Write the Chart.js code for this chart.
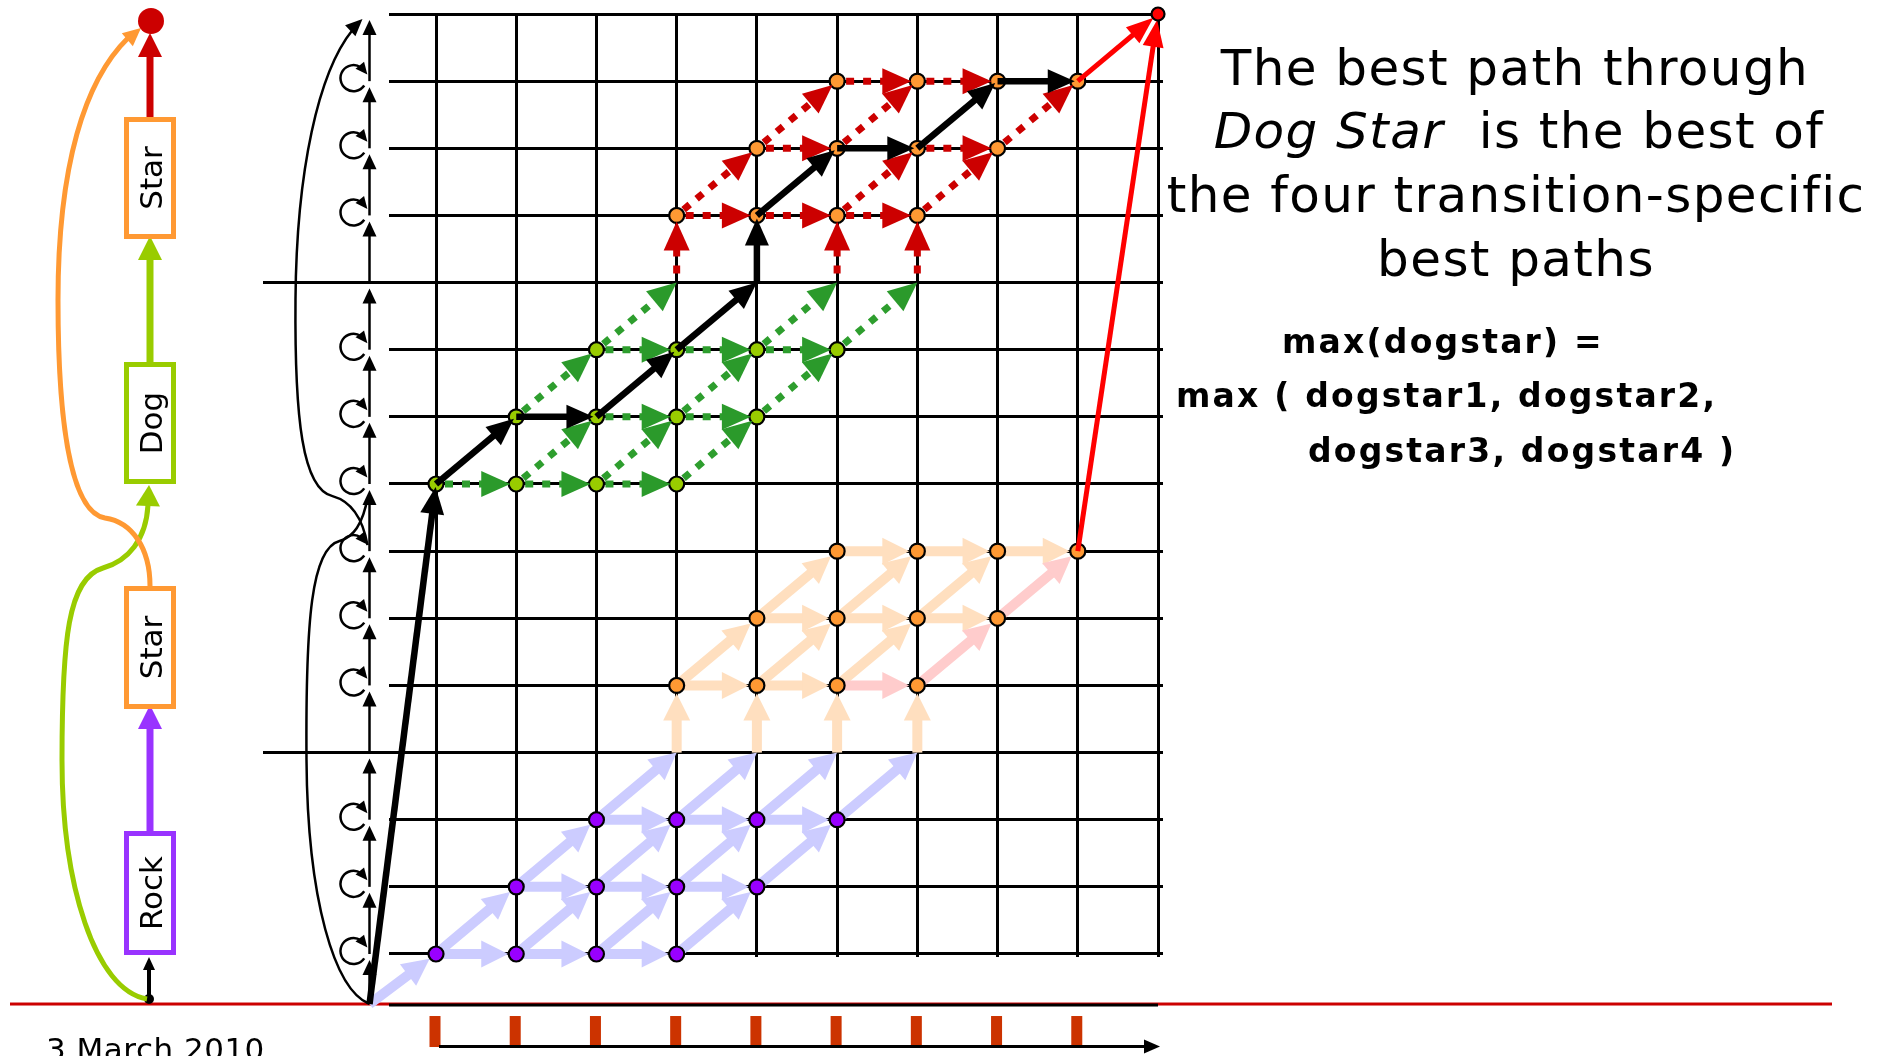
<!DOCTYPE html>
<html>
<head>
<meta charset="utf-8">
<title>Best path through Dog Star</title>
<script src="https://cdn.jsdelivr.net/npm/chart.js@4.4.1/dist/chart.umd.min.js"></script>
<style>
  html, body { margin: 0; padding: 0; background: #fff; overflow: hidden; }
  canvas { display: block; }
</style>
</head>
<body>
<canvas id="trellis" width="1889" height="1056"></canvas>
<script>
// frames along x, HMM states up y (1 = first Rock state, 15 = final state)
const frames = [1, 2, 3, 4, 5, 6, 7, 8, 9, 10]
const frameTicks = [1, 2, 3, 4, 5, 6, 7, 8, 9]
const stateRows = [1, 2, 3, 4, 5, 6, 7, 8, 9, 10, 11, 12, 13, 14, 15]
const stateColors = ["#9900ff", "#9900ff", "#9900ff", "#a9b6c4", "#ff9933", "#ff9933", "#ff9933",
  "#99cc00", "#99cc00", "#99cc00", "#a9b6c4", "#ff9933", "#ff9933", "#ff9933", "#ff0000"]
const loopRows = [1, 2, 3, 5, 6, 7, 8, 9, 10, 12, 13, 14]
const separatorRows = [4, 11]

// word graph on the left
const words = ["Rock", "Star", "Dog", "Star"]
const wordColors = ["#9933ff", "#ff9933", "#99cc00", "#ff9933"]

// trellis nodes, [frame, state]
const rockNodes = [[1, 1], [2, 1], [3, 1], [4, 1], [2, 2], [3, 2], [4, 2], [5, 2], [3, 3], [4, 3], [5, 3], [6, 3]]
const rockStarNodes = [[4, 5], [5, 5], [6, 5], [7, 5], [5, 6], [6, 6], [7, 6], [8, 6], [6, 7], [7, 7], [8, 7], [9, 7]]
const dogNodes = [[1, 8], [2, 8], [3, 8], [4, 8], [2, 9], [3, 9], [4, 9], [5, 9], [3, 10], [4, 10], [5, 10], [6, 10]]
const dogStarNodes = [[4, 12], [5, 12], [6, 12], [7, 12], [5, 13], [6, 13], [7, 13], [8, 13], [6, 14], [7, 14], [8, 14], [9, 14]]
const finalNode = [[10, 15]]

// arcs, [fromFrame, fromState, toFrame, toState]; frame 0 / state 0 = start
const rockArcs = [
  [0, 0, 1, 1],
  [1, 1, 2, 1], [2, 1, 3, 1], [3, 1, 4, 1],
  [2, 2, 3, 2], [3, 2, 4, 2], [4, 2, 5, 2],
  [3, 3, 4, 3], [4, 3, 5, 3], [5, 3, 6, 3],
  [1, 1, 2, 2], [2, 1, 3, 2], [3, 1, 4, 2], [4, 1, 5, 2],
  [2, 2, 3, 3], [3, 2, 4, 3], [4, 2, 5, 3], [5, 2, 6, 3],
  [3, 3, 4, 4], [4, 3, 5, 4], [5, 3, 6, 4], [6, 3, 7, 4]
]
const rockStarArcs = [
  [4, 4, 4, 5], [5, 4, 5, 5], [6, 4, 6, 5], [7, 4, 7, 5],
  [4, 5, 5, 5], [5, 5, 6, 5],
  [5, 6, 6, 6], [6, 6, 7, 6], [7, 6, 8, 6],
  [6, 7, 7, 7], [7, 7, 8, 7], [8, 7, 9, 7],
  [4, 5, 5, 6], [5, 5, 6, 6], [6, 5, 7, 6],
  [5, 6, 6, 7], [6, 6, 7, 7], [7, 6, 8, 7]
]
const rockStarBest = [[6, 5, 7, 5], [7, 5, 8, 6], [8, 6, 9, 7]]
const dogArcs = [
  [1, 8, 2, 8], [2, 8, 3, 8], [3, 8, 4, 8],
  [3, 9, 4, 9], [4, 9, 5, 9],
  [3, 10, 4, 10], [4, 10, 5, 10], [5, 10, 6, 10],
  [2, 8, 3, 9], [3, 8, 4, 9], [4, 8, 5, 9],
  [2, 9, 3, 10], [4, 9, 5, 10], [5, 9, 6, 10],
  [3, 10, 4, 11], [5, 10, 6, 11], [6, 10, 7, 11]
]
const dogStarArcs = [
  [4, 11, 4, 12], [6, 11, 6, 12], [7, 11, 7, 12],
  [4, 12, 5, 12], [5, 12, 6, 12], [6, 12, 7, 12],
  [5, 13, 6, 13], [7, 13, 8, 13],
  [6, 14, 7, 14], [7, 14, 8, 14],
  [4, 12, 5, 13], [6, 12, 7, 13], [7, 12, 8, 13],
  [5, 13, 6, 14], [6, 13, 7, 14], [8, 13, 9, 14]
]
const bestPath = [[0, 0], [1, 8], [2, 9], [3, 9], [4, 10], [5, 11], [5, 12], [6, 13], [7, 13], [8, 14], [9, 14]]
const finalArcs = [[9, 14, 10, 15], [9, 7, 10, 15]]

// the state column and the start row sit off the regular frame/state grid
const X0 = 0.171
const Y0 = 0.255

const toXY = ([t, k]) => ({ x: t === 0 ? X0 : t, y: k === 0 ? Y0 : k })
const nodeSet = new Set([...rockNodes, ...rockStarNodes, ...dogNodes, ...dogStarNodes, ...finalNode].map(n => n.join(",")))

const FONT = '"DejaVu Sans", Verdana, sans-serif'

function head(ctx, tx, ty, ux, uy, hl, hw, color) {
  const bx = tx - ux * hl, by = ty - uy * hl
  ctx.fillStyle = color
  ctx.beginPath()
  ctx.moveTo(tx, ty)
  ctx.lineTo(bx - uy * hw / 2, by + ux * hw / 2)
  ctx.lineTo(bx + uy * hw / 2, by - ux * hw / 2)
  ctx.closePath()
  ctx.fill()
}

function arrow(ctx, a, b, s) {
  const dx = b.x - a.x, dy = b.y - a.y, len = Math.hypot(dx, dy)
  const ux = dx / len, uy = dy / len
  const tx = b.x - ux * (s.gap || 0), ty = b.y - uy * (s.gap || 0)
  const bx = tx - ux * s.hl, by = ty - uy * s.hl
  ctx.save()
  ctx.strokeStyle = s.color
  ctx.lineWidth = s.lw
  ctx.lineCap = "butt"
  ctx.setLineDash(s.dash || [])
  ctx.beginPath()
  ctx.moveTo(a.x + ux * (s.lead || 0), a.y + uy * (s.lead || 0))
  ctx.lineTo(bx + ux, by + uy)
  ctx.stroke()
  ctx.setLineDash([])
  head(ctx, tx, ty, ux, uy, s.hl, s.hw, s.headColor || s.color)
  ctx.restore()
}

// arc styles
const lavender = { color: "#ccccff", lw: 10, hl: 27, hw: 27 }
const peach = { color: "#ffdfbf", lw: 10, hl: 27, hw: 27 }
const pink = { color: "#ffcccc", lw: 10, hl: 27, hw: 27 }
const greenDots = { color: "#2e9e2e", lw: 7, dash: [8, 9], hl: 29, hw: 26, lead: 9, headColor: "#2b9a2b" }
const redDots = { color: "#cc0000", lw: 7, dash: [8, 9], hl: 29, hw: 26, lead: 9 }
const blackPath = { color: "#000", lw: 6.5, hl: 27, hw: 24 }
const redSolid = { color: "#ff0000", lw: 5, hl: 27, hw: 21 }
const chainArrow = { color: "#000", lw: 2.5, hl: 15, hw: 14 }

function drawArcs(ctx, P, arcs, style, gapNode) {
  arcs.forEach(([t1, k1, t2, k2]) => {
    const gap = nodeSet.has(t2 + "," + k2) ? gapNode : 0
    arrow(ctx, P(t1, k1), P(t2, k2), Object.assign({}, style, { gap }))
  })
}

function curve(ctx, pts, color, lw) {
  ctx.save()
  ctx.strokeStyle = color
  ctx.lineWidth = lw
  ctx.beginPath()
  ctx.moveTo(pts[0], pts[1])
  for (let i = 2; i < pts.length; i += 6) ctx.bezierCurveTo(pts[i], pts[i + 1], pts[i + 2], pts[i + 3], pts[i + 4], pts[i + 5])
  ctx.stroke()
  ctx.restore()
}

// word graph: box spans in pixels (layout only)
const wordBoxes = [[831, 955], [586, 709], [362, 484], [117, 239]]

function drawWordGraph(ctx) {
  const cx = 150
  // start dot and arrow into Rock
  ctx.fillStyle = "#000"
  ctx.beginPath(); ctx.arc(149, 999, 5, 0, Math.PI * 2); ctx.fill()
  arrow(ctx, { x: 149, y: 999 }, { x: 149, y: 957 }, { color: "#000", lw: 4, hl: 13, hw: 12 })
  // curved arcs: start -> Dog, Star -> end
  curve(ctx, [147, 999, 95, 990, 62, 885, 62, 760, 62, 640, 68, 578, 103, 568, 128, 561, 146, 540, 148, 505], "#99cc00", 5)
  ctx.save(); head(ctx, 149, 485, 0.05, -1, 21, 24, "#99cc00"); ctx.restore()
  curve(ctx, [150, 586, 150, 548, 132, 522, 105, 518, 70, 512, 58, 420, 58, 300, 58, 165, 85, 80, 128, 38], "#ff9933", 5)
  ctx.save(); head(ctx, 141, 28, 0.76, -0.65, 18, 17, "#ff9933"); ctx.restore()
  // straight arcs between word boxes
  arrow(ctx, { x: cx, y: 831 }, { x: cx, y: 705 }, { color: "#9933ff", lw: 7, hl: 24, hw: 24 })
  arrow(ctx, { x: cx, y: 362 }, { x: cx, y: 236 }, { color: "#99cc00", lw: 7, hl: 24, hw: 24 })
  arrow(ctx, { x: cx, y: 117 }, { x: cx, y: 33 }, { color: "#cc0000", lw: 7, hl: 24, hw: 24 })
  ctx.fillStyle = "#cc0000"
  ctx.beginPath(); ctx.arc(151, 21, 13, 0, Math.PI * 2); ctx.fill()
  // boxes
  words.forEach((w, i) => {
    const [y0, y1] = wordBoxes[i]
    ctx.fillStyle = "#fff"
    ctx.fillRect(124, y0, 52, y1 - y0)
    ctx.strokeStyle = wordColors[i]
    ctx.lineWidth = 5
    ctx.strokeRect(126.5, y0 + 2.5, 47, y1 - y0 - 5)
    ctx.save()
    ctx.translate(162, (y0 + y1) / 2)
    ctx.rotate(-Math.PI / 2)
    ctx.fillStyle = "#000"
    ctx.font = "31px " + FONT
    ctx.textAlign = "center"
    ctx.textBaseline = "alphabetic"
    ctx.fillText(w, 0, 0)
    ctx.restore()
  })
}

function drawText(ctx) {
  ctx.save()
  ctx.fillStyle = "#000"
  ctx.textBaseline = "alphabetic"
  ctx.letterSpacing = "1.4px"
  ctx.font = "50px " + FONT
  ctx.textAlign = "center"
  ctx.fillText("The best path through", 1515, 85)
  ctx.fillText("the four transition-specific", 1516, 212)
  ctx.fillText("best paths", 1516, 276)
  ctx.textAlign = "left"
  ctx.font = "italic 50px " + FONT
  const w1 = ctx.measureText("Dog Star").width
  ctx.font = "50px " + FONT
  const w2 = ctx.measureText("  is the best of").width
  const x2 = 1519 - (w1 + w2) / 2
  ctx.font = "italic 50px " + FONT
  ctx.fillText("Dog Star", x2, 148)
  ctx.font = "50px " + FONT
  ctx.fillText("  is the best of", x2 + w1, 148)

  ctx.letterSpacing = "2.2px"
  ctx.font = "bold 33px " + FONT
  ctx.fillText("max(dogstar) =", 1282, 353)
  ctx.fillText("max ( dogstar1, dogstar2,", 1176, 407)
  ctx.fillText("dogstar3, dogstar4 )", 1308, 462)

  ctx.letterSpacing = "0.5px"
  ctx.font = "31px " + FONT
  ctx.fillText("3 March 2010", 46, 1060)
  ctx.restore()
}

const trellisPlugin = {
  id: "trellis",
  beforeDatasetsDraw(chart) {
    const ctx = chart.ctx
    const xs = chart.scales.x, ys = chart.scales.y
    const P = (t, k) => ({ x: xs.getPixelForValue(t === 0 ? X0 : t), y: ys.getPixelForValue(k === 0 ? Y0 : k) })
    const base = P(0, 0)

    // separator rows reach out past the state column
    ctx.save()
    ctx.strokeStyle = "#000"
    ctx.lineWidth = 3
    separatorRows.forEach(k => {
      const y = P(0, k).y
      ctx.beginPath(); ctx.moveTo(263, y); ctx.lineTo(xs.left, y); ctx.stroke()
    })
    ctx.restore()

    // utterance start line, trellis floor, frame ticks and time axis
    ctx.fillStyle = "#cc0000"
    ctx.fillRect(10, base.y - 1.5, 1822, 3)
    ctx.fillStyle = "#000"
    ctx.fillRect(xs.left, base.y - 0.5, P(10, 0).x - xs.left, 3)
    ctx.fillStyle = "#cc3300"
    frameTicks.forEach(t => ctx.fillRect(P(t, 0).x - 6.5, base.y + 12, 11, 31))
    arrow(ctx, { x: P(1, 0).x + 3, y: base.y + 42.5 }, { x: P(10, 0).x + 2, y: base.y + 42.5 }, { color: "#000", lw: 3, hl: 16, hw: 14 })

    // state column: chain arrows, self loops, word-boundary arcs
    for (let k = 0; k < stateRows.length; k++) {
      arrow(ctx, P(0, k), P(0, k + 1), Object.assign({}, chainArrow, { gap: 6 }))
    }
    ctx.save()
    ctx.strokeStyle = "#000"
    ctx.lineWidth = 2.5
    loopRows.forEach(k => {
      const p = P(0, k)
      const cx = p.x - 16, cy = p.y - 3, r = 13, a1 = 5.6
      ctx.beginPath(); ctx.arc(cx, cy, r, 0.6, a1); ctx.stroke()
      const ex = cx + r * Math.cos(a1), ey = cy + r * Math.sin(a1)
      const tx = -Math.sin(a1), ty = Math.cos(a1)
      head(ctx, ex + tx * 6, ey + ty * 6, tx, ty, 12, 11, "#000")
    })
    ctx.restore()
    const s = P(0, 0), d = P(0, 8), e = P(0, 7), f = P(0, 15)
    curve(ctx, [s.x, s.y, s.x - 35, s.y - 14, s.x - 62, s.y - 104, s.x - 63, s.y - 244,
      s.x - 64, s.y - 384, s.x - 58, d.y + 64, s.x - 30, d.y + 57, s.x - 14, d.y + 53, s.x - 6, d.y + 36, s.x - 2, d.y + 14], "#000", 2.5)
    curve(ctx, [e.x - 2, e.y - 6, e.x - 7, e.y - 34, e.x - 19, e.y - 50, e.x - 37, e.y - 55,
      e.x - 67, e.y - 62, e.x - 75, e.y - 132, e.x - 74, e.y - 252,
      e.x - 73, f.y + 156, e.x - 51, f.y + 58, e.x - 17, f.y + 16], "#000", 2.5)
    head(ctx, f.x - 7, f.y + 5, 0.72, -0.69, 17, 15, "#000")

    // Rock Star lattice (light)
    drawArcs(ctx, P, rockArcs, lavender, 8)
    drawArcs(ctx, P, rockStarArcs, peach, 8)
    drawArcs(ctx, P, rockStarBest, pink, 8)

    drawWordGraph(ctx)
    drawText(ctx)
  },
  afterDatasetDraw(chart, args) {
    if (chart.data.datasets[args.index].label !== "Dog Star") return
    const ctx = chart.ctx
    const xs = chart.scales.x, ys = chart.scales.y
    const P = (t, k) => ({ x: xs.getPixelForValue(t === 0 ? X0 : t), y: ys.getPixelForValue(k === 0 ? Y0 : k) })
    drawArcs(ctx, P, dogArcs, greenDots, 6)
    drawArcs(ctx, P, dogStarArcs, redDots, 6)
    for (let i = 1; i < bestPath.length; i++) {
      const [t1, k1] = bestPath[i - 1], [t2, k2] = bestPath[i]
      const gap = nodeSet.has(t2 + "," + k2) ? 3 : 0
      arrow(ctx, P(t1, k1), P(t2, k2), Object.assign({}, blackPath, { gap }))
    }
    drawArcs(ctx, P, finalArcs, redSolid, 6)
  }
}

const nodeColor = (nodes, color) => nodes.map(() => color)

const data = {
  datasets: [
    {
      label: "Final",
      data: finalNode.map(toXY),
      backgroundColor: "#ff0000",
      pointRadius: 6.5,
      order: 0
    },
    {
      label: "Dog Star",
      data: [...dogNodes, ...dogStarNodes].map(toXY),
      backgroundColor: [...nodeColor(dogNodes, "#99cc00"), ...nodeColor(dogStarNodes, "#ff9933")],
      pointRadius: 7.5,
      order: 1
    },
    {
      label: "Rock Star",
      data: [...rockNodes, ...rockStarNodes].map(toXY),
      backgroundColor: [...nodeColor(rockNodes, "#9900ff"), ...nodeColor(rockStarNodes, "#ff9933")],
      pointRadius: 7.5,
      order: 2
    },
    {
      label: "States",
      data: stateRows.map(k => toXY([0, k])),
      backgroundColor: stateColors,
      pointRadius: 7,
      order: 3
    }
  ]
}
data.datasets.forEach(ds => Object.assign(ds, {
  borderColor: "#000", pointBorderColor: "#000", pointBorderWidth: 2.2, borderWidth: 2.2,
  pointStyle: "circle", clip: false
}))

const config = {
  type: "scatter",
  data,
  plugins: [trellisPlugin],
  options: {
    responsive: false,
    animation: false,
    devicePixelRatio: 1,
    events: [],
    layout: { padding: { left: 389, right: 726, top: 14, bottom: 99 } },
    plugins: { legend: { display: false }, tooltip: { enabled: false } },
    scales: {
      x: {
        type: "linear",
        min: 0.4141,
        max: 10.0623,
        grid: { color: "#000", lineWidth: 3, drawTicks: false },
        border: { display: false },
        ticks: { display: false },
        afterBuildTicks: scale => { scale.ticks = frames.map(v => ({ value: v })) }
      },
      y: {
        type: "linear",
        min: 0.9553,
        max: 15,
        grid: { color: "#000", lineWidth: 3, drawTicks: false },
        border: { display: false },
        ticks: { display: false },
        afterBuildTicks: scale => { scale.ticks = stateRows.map(v => ({ value: v })) }
      }
    }
  }
}

const myChart = new Chart(document.getElementById("trellis").getContext("2d"), config)
</script>
</body>
</html>
